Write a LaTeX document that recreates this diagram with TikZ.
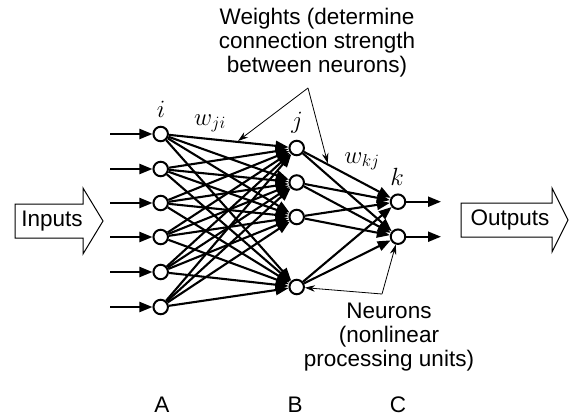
\documentclass[tikz,border=0pt]{standalone}
\usepackage{fontspec}
\setmainfont{Liberation Sans}
\usetikzlibrary{arrows.meta}
\begin{document}
\begin{tikzpicture}[x=1pt,y=-1pt,
  neuron/.style={circle,draw,line width=2pt,fill=white,minimum size=14.5pt,inner sep=0pt},
  conn/.style={line width=2.1pt,-{Triangle[length=13pt,width=10pt]}},
  ptr/.style={line width=0.8pt,-{Stealth[length=10pt,width=6.5pt]}},
  lbl/.style={font=\fontsize{22.5}{24}\selectfont,align=center,inner sep=0pt},
  mlbl/.style={font=\fontsize{25}{24}\selectfont,anchor=base,inner sep=0pt},
  block/.style={draw,line width=1pt,fill=white}]
\useasboundingbox (0,0) rectangle (569,418);
% neurons
\foreach \y [count=\n] in {134,169,203,237,272,307}
  \node[neuron] (i\n) at (160.7,\y) {};
\foreach \y [count=\n] in {148,182.5,217,287}
  \node[neuron] (j\n) at (296.7,\y) {};
\foreach \y [count=\n] in {201.7,236.7}
  \node[neuron] (k\n) at (398,\y) {};
% input / output stubs
\foreach \y [count=\n] in {134,169,203,237,272,307}
  \coordinate (in\n) at (110,\y);
\foreach \y [count=\n] in {201.7,236.7}
  \coordinate (out\n) at (441,\y);
% connections
\foreach \a in {1,...,6}
  \foreach \b in {1,...,4}
    \draw[conn] (i\a) -- (j\b);
\foreach \b in {1,...,4}
  \foreach \c in {1,2}
    \draw[conn] (j\b) -- (k\c);
\foreach \n in {1,...,6}
  \draw[conn] (in\n) -- (i\n);
\foreach \n in {1,2}
  \draw[conn] (k\n) -- (out\n);
% block arrows
\draw[block] (15,204) -- (83,204) -- (83,188) -- (103,221) -- (83,254) -- (83,238) -- (15,238) -- cycle;
\node[lbl] (inputs) at (52,221) {Inputs};
\draw[block] (461,203) -- (552,203) -- (552,188) -- (568,220) -- (552,252) -- (552,237) -- (461,237) -- cycle;
\node[lbl] (outputs) at (510,220) {Outputs};
% math labels
\node[mlbl] (li) at (161,117) {$i$};
\node[mlbl] (lj) at (297,128) {$j$};
\node[mlbl] (lk) at (397,185) {$k$};
\node[mlbl] (lwji) at (210,125) {$w_{ji}$};
\node[mlbl] (lwkj) at (362,163) {$w_{kj}$};
% annotations (base anchor = baseline of the last line)
\node[lbl,anchor=base] (weights) at (317,72) {Weights (determine\\connection strength\\between neurons)};
\node[lbl,anchor=base] (neurons) at (389,366) {Neurons\\(nonlinear\\processing units)};
\coordinate (wapex) at (308,88);
\path (i1.center) -- (j1.center) coordinate[pos=0.56] (w1);
\path (j1.center) -- (k1.center) coordinate[pos=0.31] (w2);
\draw[ptr,shorten >=1.5pt] (wapex) -- (w1);
\draw[ptr,shorten >=1.5pt] (wapex) -- (w2);
\coordinate (napex) at (382,294);
\draw[ptr] (napex) -- (j4);
\draw[ptr] (napex) -- (k2);
% layer letters
\node[lbl,anchor=base] (la) at (162,412) {A};
\node[lbl,anchor=base] (lb) at (295,412) {B};
\node[lbl,anchor=base] (lc) at (398,412) {C};
\end{tikzpicture}
\end{document}
